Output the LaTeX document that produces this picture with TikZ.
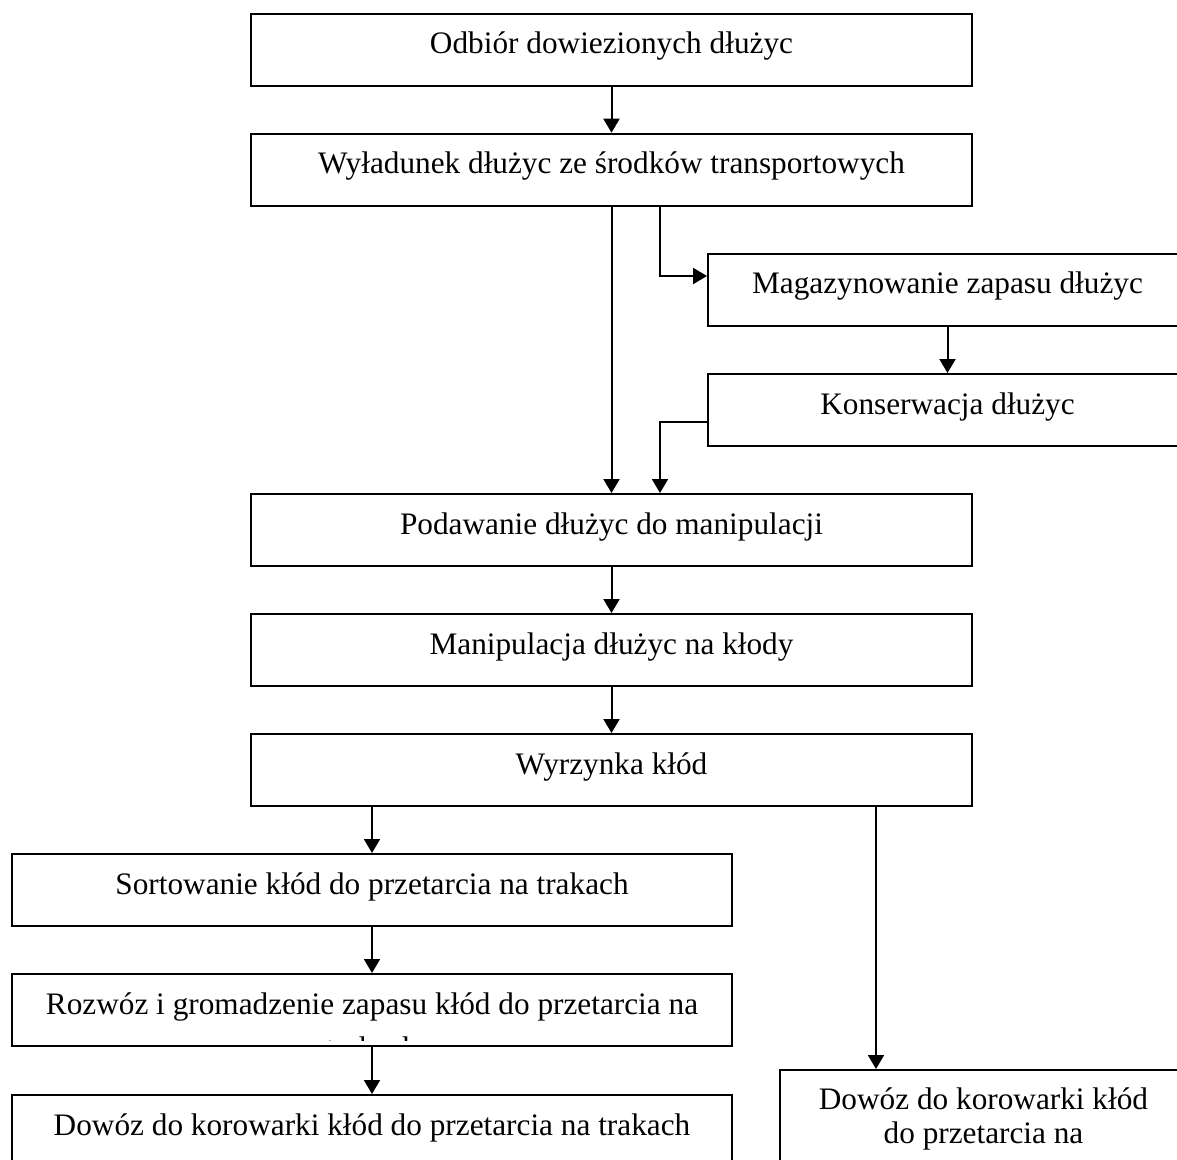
\documentclass[tikz,border=0pt]{standalone}
\usepackage{fontspec}
\setmainfont{Liberation Serif}
\usetikzlibrary{arrows.meta}

\begin{document}
\begin{tikzpicture}[
		x=0.02cm, y=-0.02cm,
		line width=0.04cm,
		every node/.style={rectangle, draw, anchor=north, inner sep=0pt,
			minimum width=14.42cm, minimum height=1.44cm,
			text height=0.8cm, text depth=0.64cm,
			font=\fontsize{17.8pt}{19.9pt}\selectfont},
		side/.style={minimum width=9.58cm},
		arrow/.style={-{Triangle[length=0.28cm, width=0.32cm]}}
	]
  \useasboundingbox (0,0) rectangle (1177,1160);
  \clip (0,0) rectangle (1177,1160);
  \node (odbior) at (611.5, 12.7) {Odbiór dowiezionych dłużyc};
  \node (wyladunek) at (611.5, 132.7) {Wyładunek dłużyc ze środków transportowych};
  \node (magazyn) [side] at (947.5, 253) {Magazynowanie zapasu dłużyc};
  \node (konserwacja) [side] at (947.5, 373) {Konserwacja dłużyc};
  \node (podawanie) at (611.5, 493) {Podawanie dłużyc do manipulacji};
  \node (manipulacja) at (611.5, 613) {Manipulacja dłużyc na kłody};
  \node (wyrzynka) at (611.5, 733) {Wyrzynka kłód};
  \node (sortowanie) at (372, 853) {Sortowanie kłód do przetarcia na trakach};
  \node (rozwoz) at (372, 973) {};
  \begin{scope}
    \clip (12, 975) rectangle (732, 1040);
    \node (rozwoz_text) [draw=none, minimum width=0pt, minimum height=0pt,
      align=center, text height=1.7cm, text depth=0.4cm] at (372, 973)
      {Rozwóz i gromadzenie zapasu kłód do przetarcia na\\[0.2cm]trakach};
  \end{scope}
  \node (dowoz_trak) at (372, 1094) {Dowóz do korowarki kłód do przetarcia na trakach};
  \node (dowoz_kor) [minimum width=8.14cm, align=center,
    text height=1.48cm, text depth=0.94cm] at (983.5, 1069)
    {Dowóz do korowarki kłód\\do przetarcia na};
  \coordinate (bend_a) at (660, 276);
  \coordinate (bend_b) at (660, 421.7);
  \coordinate (split_r) at (876, 805);
  \draw[arrow] (odbior.south) -- (wyladunek.north);
  \draw[arrow] (wyladunek.south) -- (podawanie.north);
  \draw[arrow] (wyladunek.south -| bend_a) -- (bend_a) -- (bend_a -| magazyn.west);
  \draw[arrow] (magazyn.south) -- (konserwacja.north);
  \draw[arrow] (bend_b -| konserwacja.west) -- (bend_b) -- (bend_b |- podawanie.north);
  \draw[arrow] (podawanie.south) -- (manipulacja.north);
  \draw[arrow] (manipulacja.south) -- (wyrzynka.north);
  \draw[arrow] (wyrzynka.south -| sortowanie.north) -- (sortowanie.north);
  \draw[arrow] (split_r) -- (split_r |- dowoz_kor.north);
  \draw[arrow] (sortowanie.south) -- (rozwoz.north);
  \draw[arrow] (rozwoz.south) -- (dowoz_trak.north);
\end{tikzpicture}
\end{document}
